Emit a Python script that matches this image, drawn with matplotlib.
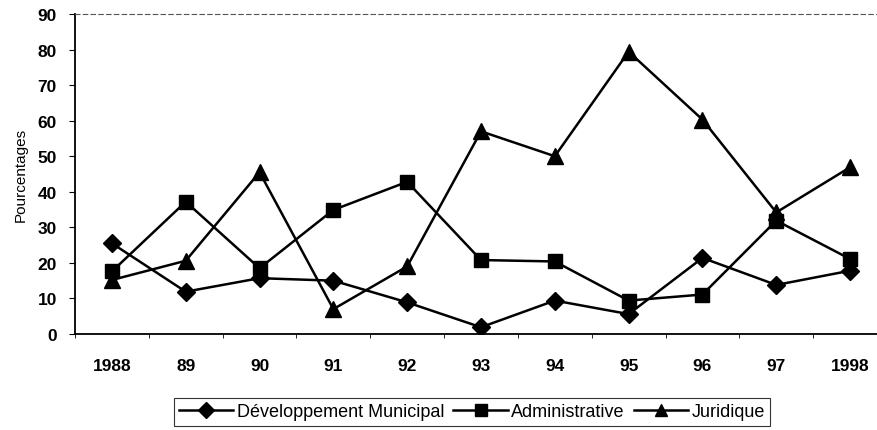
import matplotlib
matplotlib.use("Agg")
import matplotlib.pyplot as plt
import numpy as np

plt.rcParams['font.family'] = ['Liberation Sans', 'DejaVu Sans']

# données
annees = ['1988', '89', '90', '91', '92', '93', '94', '95', '96', '97', '1998']
dev_municipal = [25.5, 11.9, 15.7, 15.0, 8.9, 1.9, 9.4, 5.6, 21.4, 13.8, 17.8]
administrative = [17.6, 37.2, 18.5, 34.9, 42.8, 20.8, 20.4, 9.4, 11.1, 31.9, 21.1]
juridique = [15.2, 20.6, 45.5, 7.0, 19.0, 57.0, 50.0, 79.4, 60.3, 34.2, 46.9]

fig = plt.figure(figsize=(8.77, 4.31), dpi=100)
ax = fig.add_axes([75 / 877, 96 / 431, 812 / 877, 320 / 431])

x = np.arange(len(annees))
ax.plot(x, dev_municipal, color='black', lw=1.8, marker='D', markersize=9,
        label='Développement Municipal')
ax.plot(x, administrative, color='black', lw=1.8, marker='s', markersize=10.5,
        label='Administrative')
ax.plot(x, juridique, color='black', lw=1.8, marker='^', markersize=11,
        label='Juridique')

ax.set_xlim(-0.5, 10.5)
ax.set_ylim(0, 90)
ax.set_yticks(range(0, 91, 10))
ax.set_xticks(x)
ax.set_xticklabels(annees, fontsize=12.5, fontweight='bold')
ax.set_xticks(np.arange(-0.5, 10.6, 1), minor=True)
for t in ax.get_yticklabels():
    t.set_fontsize(12.5)
    t.set_fontweight('bold')
ax.tick_params(axis='x', which='major', length=0, pad=17)
ax.tick_params(axis='x', which='minor', length=3, direction='out')
ax.tick_params(axis='y', length=4, direction='out', pad=9)
ax.set_ylabel('Pourcentages', fontsize=11, labelpad=7)

ax.spines['right'].set_visible(False)
ax.spines['top'].set_linestyle((0, (4, 3)))
ax.spines['top'].set_linewidth(0.8)
ax.spines['top'].set_color('#555555')
ax.spines['left'].set_linewidth(1.3)
ax.spines['bottom'].set_linewidth(1.3)

leg = fig.legend(loc='center', bbox_to_anchor=(472 / 877, 1 - 413 / 431), ncol=3,
                 fontsize=13, frameon=True, fancybox=False, edgecolor='black',
                 handlelength=3.0, handletextpad=0.2, columnspacing=0.5,
                 borderpad=0.3, markerscale=0.85)
leg.get_frame().set_linewidth(0.8)

fig.savefig('out.png', dpi=100)
